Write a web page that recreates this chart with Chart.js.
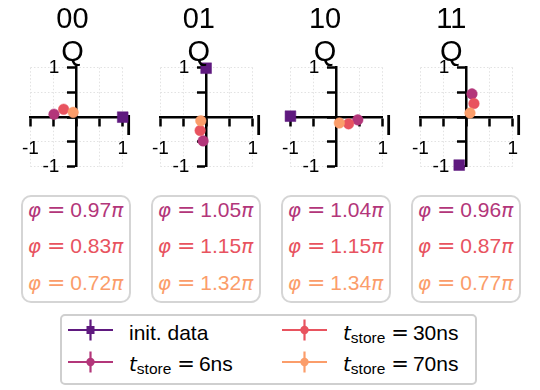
<!DOCTYPE html>
<html>
<head>
<meta charset="utf-8">
<script src="https://cdn.jsdelivr.net/npm/chart.js@4/dist/chart.umd.min.js"></script>
<style>
  html, body { margin: 0; padding: 0; background: #fff; }
  body { width: 540px; height: 390px; position: relative; overflow: hidden;
         font-family: "Liberation Sans", Arial, sans-serif; color: #000; }
  .panel { position: absolute; top: 0; }
  .title { position: absolute; top: 1.5px; width: 60px; text-align: center;
           font-size: 29px; line-height: 33px; }
  .pbox { position: absolute; top: 195px; width: 110px; height: 108px; box-sizing: border-box;
          border: 2.5px solid #d5d5d5; border-radius: 10px; }
  .pline { position: absolute; left: 0; width: 105px; text-align: center;
           font-size: 21px; line-height: 21px; white-space: nowrap; }
  .m { font-family: "DejaVu Sans", sans-serif; font-style: italic; font-size: 20px; }
  .eq { font-family: "DejaVu Sans", sans-serif; font-size: 22px; margin: 0 5px 0 6px; }
  .legend { position: absolute; left: 60px; top: 314px; width: 417px; height: 71px; box-sizing: border-box;
            border: 2px solid #cfcfcf; border-radius: 5px; }
  .legend svg { position: absolute; }
  .legend .t { position: absolute; white-space: nowrap; font-size: 21px; line-height: 19px; }
  .legend .m { font-size: 20px; }
  .legend .eq { font-size: 21px; margin: 0 4px 0 6px; }
  sub { font-size: 15.5px; vertical-align: -3px; line-height: 0; }
</style>
</head>
<body>
<script>
// IQ-plane states and their stored readouts
const states = ['00', '01', '10', '11'];

const initI = [1.00, -0.01, -1.00, -0.16];
const initQ = [0.00, 0.99, 0.02, -0.97];

const i6 = [-0.49, -0.075, 0.46, 0.117];
const q6 = [0.06, -0.48, -0.055, 0.47];

const i30 = [-0.28, -0.14, 0.26, 0.16];
const q30 = [0.16, -0.27, -0.135, 0.275];

const i70 = [-0.074, -0.125, 0.06, 0.074];
const q70 = [0.097, -0.073, -0.117, 0.085];

// phase of the stored state, in units of pi
const phase6 = ['0.97', '1.05', '1.04', '0.96'];
const phase30 = ['0.83', '1.15', '1.15', '0.87'];
const phase70 = ['0.72', '1.32', '1.34', '0.77'];

const tickValues = [-1, -0.5, 0, 0.5, 1];
const tickText = ['-1', '', '', '', '1'];

const seriesNames = ['init. data', '6ns', '30ns', '70ns'];
const colors = ['#5f197f', '#b3367a', '#e8535f', '#fb9d6a'];

const FONT = '"Liberation Sans", Arial, sans-serif';
// where the Q tick labels sit, in I units (left of the Q axis)
const qLabelAnchor = -0.375;

function labelFor(v) {
  const idx = tickValues.findIndex(t => Math.abs(t - v) < 1e-9);
  return idx >= 0 ? tickText[idx] : '';
}

// axis letter "I" at the right end of the horizontal axis
const axisLetter = {
  id: 'axisLetter',
  beforeDatasetsDraw(chart) {
    const { ctx, scales: { x, y } } = chart;
    ctx.save();
    ctx.font = '30px ' + FONT;
    ctx.fillStyle = '#000';
    ctx.textAlign = 'center';
    ctx.textBaseline = 'alphabetic';
    ctx.fillText('I', x.right + 6, y.getPixelForValue(0) + 18);
    ctx.restore();
  }
};

function axisScale(axis) {
  return {
    type: 'linear',
    min: -1, max: 1,
    position: axis === 'x' ? { y: 0 } : { x: 0 },
    afterBuildTicks(s) { s.ticks = tickValues.map(v => ({ value: v })); },
    ticks: {
      autoSkip: false, maxRotation: 0, padding: 12,
      color: axis === 'x' ? '#000' : 'rgba(0,0,0,0)',
      font: { family: FONT, size: 19 },
      callback: v => labelFor(v)
    },
    grid: {
      color: '#e2e2e2', lineWidth: 1,
      drawTicks: true, tickLength: 8, tickWidth: 2.5, tickColor: '#000'
    },
    border: { display: true, color: '#000', width: 2.5, dash: [1.5, 2] }
  };
}

// label-only scale carrying the Q tick numbers
const qLabelScale = {
  type: 'linear',
  axis: 'y',
  min: -1, max: 1,
  position: { x: qLabelAnchor },
  afterBuildTicks(s) { s.ticks = tickValues.map(v => ({ value: v })); },
  ticks: {
    autoSkip: false, padding: 0, color: '#000',
    font: { family: FONT, size: 19 },
    callback: v => labelFor(v)
  },
  grid: { display: false, drawTicks: false },
  border: { display: false }
};

states.forEach((st, k) => {
  const left = 10 + 130 * k;
  const canvas = document.createElement('canvas');
  canvas.className = 'panel';
  canvas.width = 130; canvas.height = 190;
  canvas.style.left = left + 'px';
  canvas.style.width = '130px'; canvas.style.height = '190px';
  document.body.appendChild(canvas);

  const pts = [
    { x: initI[k], y: initQ[k] },
    { x: i6[k], y: q6[k] },
    { x: i30[k], y: q30[k] },
    { x: i70[k], y: q70[k] }
  ];
  const datasets = pts.map((p, j) => ({
    label: seriesNames[j],
    data: [p],
    pointStyle: j === 0 ? 'rect' : 'circle',
    pointRadius: j === 0 ? 7.6 : 5.3,
    backgroundColor: colors[j],
    borderColor: colors[j],
    borderWidth: 0.5,
    clip: false
  }));
  // the slowest series goes underneath
  const ordered = [datasets[3], datasets[2], datasets[1], datasets[0]];

  new Chart(canvas, {
    type: 'scatter',
    data: { datasets: ordered },
    options: {
      responsive: false, animation: false, devicePixelRatio: 1,
      layout: { padding: { left: 11.7, right: 10.7, top: 67.7, bottom: 13.3 } },
      plugins: { legend: { display: false }, tooltip: { enabled: false }, title: { display: false } },
      scales: { x: axisScale('x'), y: axisScale('y'), qLabels: qLabelScale }
    },
    plugins: [axisLetter]
  });

  // state title and axis letter Q
  const t = document.createElement('div');
  t.className = 'title';
  t.style.left = (72.5 + 126.3 * k - 30) + 'px';
  t.innerHTML = st + '<br>Q';
  document.body.appendChild(t);

  // phase box
  const box = document.createElement('div');
  box.className = 'pbox';
  box.style.left = (21 + 130 * k) + 'px';
  const vals = [phase6[k], phase30[k], phase70[k]];
  const tops = [1.7, 38.2, 74.7];
  vals.forEach((v, j) => {
    const line = document.createElement('div');
    line.className = 'pline';
    line.style.top = tops[j] + 'px';
    line.style.color = colors[j + 1];
    line.innerHTML = '<span class="m">φ</span><span class="eq">=</span>' + v + '<span class="m">π</span>';
    box.appendChild(line);
  });
  document.body.appendChild(box);
});

// legend
function icon(color, square, left, top) {
  const mk = square
    ? `<rect x="18.5" y="8" width="8" height="8" fill="${color}"/>`
    : `<circle cx="22.5" cy="12" r="4.2" fill="${color}"/>`;
  return `<svg style="left:${left}px;top:${top}px" width="46" height="24" viewBox="0 0 46 24">
    <line x1="0" y1="12" x2="45" y2="12" stroke="${color}" stroke-width="2.2"/>
    <line x1="22.5" y1="1.5" x2="22.5" y2="22.5" stroke="${color}" stroke-width="2.2"/>${mk}</svg>`;
}
const legend = document.createElement('div');
legend.className = 'legend';
document.body.appendChild(legend);
// inner origin of the legend box (page coords)
const LX = 62, LY = 316;
const entries = [
  { ix: 68, iy: 330, tx: 129, base: 339, j: 0 },
  { ix: 68, iy: 362, tx: 129, base: 370, j: 1 },
  { ix: 282, iy: 330, tx: 343, base: 339, j: 2 },
  { ix: 282, iy: 362, tx: 343, base: 370, j: 3 }
];
let html = '';
entries.forEach(e => {
  const label = e.j === 0
    ? seriesNames[0]
    : '<span class="m">t</span><sub>store</sub><span class="eq">=</span>' + seriesNames[e.j];
  html += icon(colors[e.j], e.j === 0, e.ix - LX, e.iy - 12 - LY);
  html += `<span class="t" style="left:${e.tx - LX}px;top:${e.base - 15.7 - LY}px">${label}</span>`;
});
legend.innerHTML = html;
</script>
</body>
</html>
